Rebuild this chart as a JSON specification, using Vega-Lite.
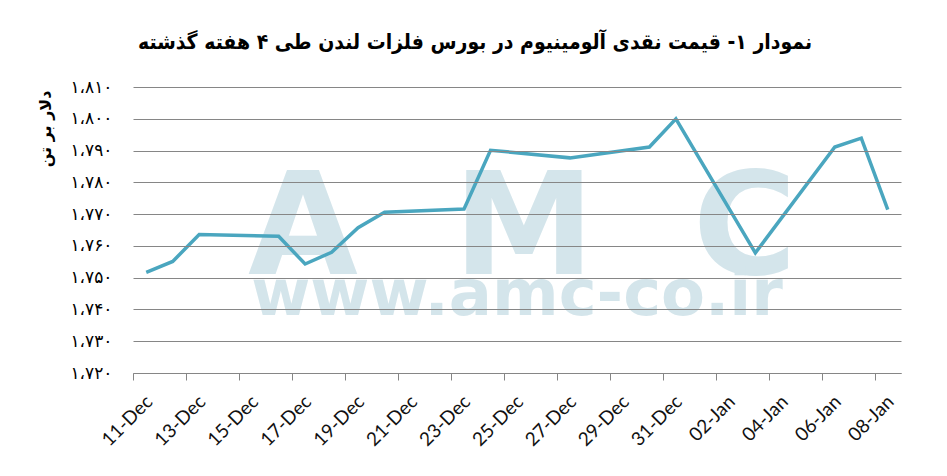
{
  "$schema": "https://vega.github.io/schema/vega-lite/v6.json",
  "width": 768,
  "height": 286,
  "autosize": "none",
  "padding": {"left": 133, "top": 87, "right": 46, "bottom": 103},
  "background": "white",
  "title": {
    "text": "نمودار ۱- قیمت نقدی آلومینیوم در بورس فلزات لندن طی ۴ هفته گذشته",
    "font": "DejaVu Sans Condensed",
    "fontSize": 21,
    "fontWeight": "bold",
    "color": "#000000",
    "anchor": "middle",
    "offset": 25,
    "dx": -42
  },
  "config": {"view": {"stroke": null}},
  "datasets": {
    "prices": [
      {"date": "2019-12-11", "price": 1751.7},
      {"date": "2019-12-12", "price": 1755.1},
      {"date": "2019-12-13", "price": 1763.6},
      {"date": "2019-12-16", "price": 1763.0},
      {"date": "2019-12-17", "price": 1754.3},
      {"date": "2019-12-18", "price": 1758.0},
      {"date": "2019-12-19", "price": 1765.7},
      {"date": "2019-12-20", "price": 1770.6},
      {"date": "2019-12-23", "price": 1771.6},
      {"date": "2019-12-24", "price": 1790.1},
      {"date": "2019-12-27", "price": 1787.7},
      {"date": "2019-12-30", "price": 1791.1},
      {"date": "2019-12-31", "price": 1800.0},
      {"date": "2020-01-03", "price": 1757.8},
      {"date": "2020-01-06", "price": 1791.1},
      {"date": "2020-01-07", "price": 1793.9},
      {"date": "2020-01-08", "price": 1771.4}
    ],
    "mark": [
      {"glyph": "A"},
      {"glyph": "M"},
      {"glyph": "C"}
    ],
    "site": [
      {"url": "www.amc-co.ir"}
    ]
  },
  "resolve": {"scale": {"x": "independent", "y": "independent"}},
  "layer": [
    {
      "data": {"name": "mark"},
      "mark": {"type": "text", "font": "DejaVu Sans", "fontWeight": "bold", "fontSize": 142, "color": "#d4e5eb", "baseline": "alphabetic", "align": "center"},
      "encoding": {
        "x": {"field": "glyph", "type": "nominal", "scale": {"type": "point", "domain": ["A", "M", "C"], "padding": 0.7376, "align": 0.521}, "axis": null},
        "y": {"datum": 1751.3, "type": "quantitative", "scale": {"domain": [1720, 1810], "nice": false, "zero": false}, "axis": null},
        "text": {"field": "glyph"}
      }
    },
    {
      "data": {"name": "site"},
      "mark": {"type": "text", "font": "DejaVu Sans", "fontWeight": "bold", "fontSize": 64, "color": "#d4e5eb", "baseline": "alphabetic", "align": "center"},
      "encoding": {
        "y": {"datum": 1738.3, "type": "quantitative", "scale": {"domain": [1720, 1810], "nice": false, "zero": false}, "axis": null},
        "text": {"field": "url"}
      }
    },
    {
      "data": {"name": "prices"},
      "mark": {"type": "line", "color": "#4aa6bf", "strokeWidth": 3.5},
      "encoding": {
        "x": {
          "field": "date",
          "type": "temporal",
          "scale": {
            "type": "utc",
            "domain": [
              {"year": 2019, "month": 12, "date": 10, "hours": 12, "utc": true},
              {"year": 2020, "month": 1, "date": 8, "hours": 12, "utc": true}
            ]
          },
          "axis": {
            "title": null,
            "grid": false,
            "values": [
              {"year": 2019, "month": 12, "date": 11, "utc": true},
              {"year": 2019, "month": 12, "date": 13, "utc": true},
              {"year": 2019, "month": 12, "date": 15, "utc": true},
              {"year": 2019, "month": 12, "date": 17, "utc": true},
              {"year": 2019, "month": 12, "date": 19, "utc": true},
              {"year": 2019, "month": 12, "date": 21, "utc": true},
              {"year": 2019, "month": 12, "date": 23, "utc": true},
              {"year": 2019, "month": 12, "date": 25, "utc": true},
              {"year": 2019, "month": 12, "date": 27, "utc": true},
              {"year": 2019, "month": 12, "date": 29, "utc": true},
              {"year": 2019, "month": 12, "date": 31, "utc": true},
              {"year": 2020, "month": 1, "date": 2, "utc": true},
              {"year": 2020, "month": 1, "date": 4, "utc": true},
              {"year": 2020, "month": 1, "date": 6, "utc": true},
              {"year": 2020, "month": 1, "date": 8, "utc": true}
            ],
            "labelExpr": "utcFormat(datum.value, '%d-%b')",
            "labelAngle": -45,
            "labelOverlap": false,
            "tickOffset": -13.24,
            "labelOffset": 9.5,
            "domainColor": "#868686",
            "tickColor": "#868686",
            "tickSize": 7,
            "labelFont": "Lato",
            "labelFontSize": 19,
            "labelColor": "#111111",
            "labelPadding": 12
          }
        },
        "y": {
          "field": "price",
          "type": "quantitative",
          "scale": {"domain": [1720, 1810], "nice": false, "zero": false},
          "axis": {
            "values": [1720, 1730, 1740, 1750, 1760, 1770, 1780, 1790, 1800, 1810],
            "labelExpr": "replace(replace(replace(replace(replace(replace(replace(replace(replace(replace(replace(format(datum.value, ','), regexp('0', 'g'), '۰'), regexp('1', 'g'), '۱'), regexp('2', 'g'), '۲'), regexp('3', 'g'), '۳'), regexp('4', 'g'), '۴'), regexp('5', 'g'), '۵'), regexp('6', 'g'), '۶'), regexp('7', 'g'), '۷'), regexp('8', 'g'), '۸'), regexp('9', 'g'), '۹'), regexp(',', 'g'), '،')",
            "labelOverlap": false,
            "domain": false,
            "ticks": false,
            "grid": true,
            "gridColor": "#868686",
            "gridWidth": 1,
            "zindex": 1,
            "labelFont": "DejaVu Sans",
            "labelFontSize": 17,
            "labelColor": "#000000",
            "labelPadding": 21,
            "title": "دلار بر تن",
            "titleFont": "DejaVu Sans",
            "titleFontSize": 16,
            "titleFontWeight": "bold",
            "titleColor": "#000000",
            "titleAngle": -90,
            "titleX": -88,
            "titleY": 3,
            "titleAlign": "right",
            "titleBaseline": "middle"
          }
        }
      }
    }
  ]
}
